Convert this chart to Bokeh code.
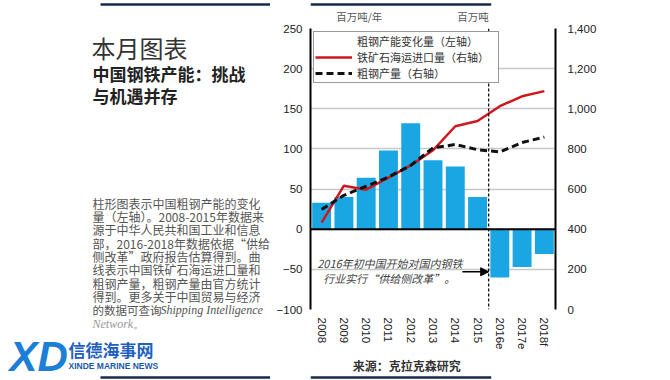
from bokeh.plotting import figure
from bokeh.models import (Range1d, LinearAxis, FixedTicker, NumeralTickFormatter, Span,
                          Label, Legend, LegendItem, Arrow, NormalHead, GridBox)
from bokeh.embed import file_html
from bokeh.resources import INLINE

# ---- data ----
years = ["2008", "2009", "2010", "2011", "2012", "2013", "2014", "2015", "2016e", "2017e", "2018f"]
capacity_change = [33, 40, 64, 98, 132, 86, 78, 40, -60, -47, -31]          # left axis, Mt/yr
iron_ore_imports = [433, 617, 597, 657, 718, 793, 913, 939, 1013, 1062, 1088]  # right axis, Mt
steel_output = [498, 569, 614, 660, 718, 805, 822, 796, 785, 832, 859]         # right axis, Mt
left_ticks = [-100, -50, 0, 50, 100, 150, 200, 250]
right_ticks = [0, 200, 400, 600, 800, 1000, 1200, 1400]

BLUE = "#1aa6e3"
RED = "#d0161e"
NAVY = "#172a4d"
CJK = "Noto Sans CJK SC"
NUM = "Liberation Sans"
SPLIT = 270   # page x where the text panel ends and the chart column begins


def blank(w, h, x0, x1, y0, y1):
    f = figure(width=w, height=h, x_range=Range1d(x0, x1), y_range=Range1d(y1, y0),
               output_backend="svg", toolbar_location=None, min_border=0,
               x_axis_location=None, y_axis_location=None, outline_line_color=None,
               background_fill_color="white", border_fill_color="white")
    f.xgrid.grid_line_color = None
    f.ygrid.grid_line_color = None
    return f


def lab(f, text, x, y, size="12px", color="#444", font=CJK, style="normal", align="left",
        baseline="middle"):
    f.add_layout(Label(x=x, y=y, text=text, text_font=font, text_font_size=size,
                       text_color=color, text_font_style=style, text_align=align,
                       text_baseline=baseline))


# ---------------- left text panel ----------------
L = blank(SPLIT, 380, 0, SPLIT, 0, 380)
L.segment(x0=[100, 100], y0=[4, 377], x1=[SPLIT, SPLIT], y1=[4, 377], line_color=NAVY,
          line_width=2.5)
lab(L, "本月图表", 91, 29, size="24px", color="#333", baseline="top")
lab(L, "中国钢铁产能：挑战", 92, 60, size="17px", color="#222", style="bold", baseline="top")
lab(L, "与机遇并存", 92, 82, size="17px", color="#222", style="bold", baseline="top")

body = ["柱形图表示中国粗钢产能的变化",
        "量（左轴）。2008-2015年数据来",
        "源于中华人民共和国工业和信息",
        "部，2016-2018年数据依据“供给",
        "侧改革”政府报告估算得到。曲",
        "线表示中国铁矿石海运进口量和",
        "粗钢产量，粗钢产量由官方统计",
        "得到。更多关于中国贸易与经济"]
body_y = [203, 216, 229, 243, 256, 269, 283, 296]
for t, yy in zip(body, body_y):
    lab(L, t, 92, yy, size="12px", color="#555")
lab(L, "的数据可查询", 92, 309, size="11.5px", color="#555")
lab(L, "Shipping Intelligence", 160, 309, size="12px", color="#555",
    font="Liberation Serif", style="italic")
lab(L, "Network。", 92, 323, size="12px", color="#999", font="Liberation Serif", style="italic")

# logo
lab(L, "XD", 9, 356, size="42px", color="#1b7fd8", font=NUM, style="bold italic")
lab(L, "信德海事网", 68, 349, size="17px", color="#1f5fbf", style="bold")
lab(L, "XINDE MARINE NEWS", 68, 365, size="8.5px", color="#1a5aa8", font=NUM, style="bold")

RW = 670 - SPLIT
# ---------------- top strip ----------------
T = blank(RW, 24, SPLIT, 670, 0, 24)
T.segment(x0=[SPLIT], y0=[4], x1=[565], y1=[4], line_color=NAVY, line_width=2.5)
lab(T, "百万吨/年", 312, 15.5, size="10.5px", color="#555")
lab(T, "百万吨", 561, 15.5, size="10.5px", color="#555", align="right")

# ---------------- chart ----------------
C = figure(width=RW, height=328, x_range=years, y_range=Range1d(-100, 250),
           output_backend="svg", toolbar_location=None,
           min_border_left=310 - SPLIT, min_border_right=115, min_border_top=4,
           min_border_bottom=42,
           outline_line_color=None, background_fill_color="white", border_fill_color="white")
C.extra_y_ranges = {"right": Range1d(0, 1400)}

C.xgrid.grid_line_color = None
C.ygrid.ticker = FixedTicker(ticks=left_ticks)
C.ygrid.grid_line_color = "#c8c8c8"
C.ygrid.grid_line_width = 1.5

ya = C.yaxis[0]
ya.ticker = FixedTicker(ticks=left_ticks)
ra = LinearAxis(y_range_name="right", ticker=FixedTicker(ticks=right_ticks),
                formatter=NumeralTickFormatter(format="0,0"))
C.add_layout(ra, "right")
for ax, so in ((ya, 8), (ra, 12)):
    ax.axis_line_color = "black"
    ax.axis_line_width = 2
    ax.major_tick_line_color = None
    ax.minor_tick_line_color = None
    ax.major_tick_out = 0
    ax.major_tick_in = 0
    ax.minor_tick_out = 0
    ax.major_label_text_font = NUM
    ax.major_label_text_font_size = "11.5px"
    ax.major_label_text_color = "#222"
    ax.major_label_standoff = so

xa = C.xaxis[0]
xa.axis_line_color = None
xa.major_tick_line_color = None
xa.minor_tick_line_color = None
xa.major_tick_out = 0
xa.major_tick_in = 0
xa.minor_tick_out = 0
xa.major_label_orientation = "vertical"
xa.major_label_text_font = NUM
xa.major_label_text_font_size = "11.5px"
xa.major_label_text_color = "#222"
xa.major_label_standoff = 8

C.vbar(x=years, top=capacity_change, width=0.85, fill_color=BLUE, line_color=None)
r_ore = C.line(years, iron_ore_imports, y_range_name="right", line_color=RED, line_width=2.5)
r_steel = C.line(years, steel_output, y_range_name="right", line_color="#111111",
                 line_width=3, line_dash="7 4")
r_bar_leg = C.line(x=[], y=[], line_color=BLUE, line_width=5)

C.add_layout(Span(location=0, dimension="width", line_color="black", line_width=2))
C.add_layout(Span(location=8.0, dimension="height", line_color="black", line_width=1.2,
                  line_dash="3 2"))
C.add_layout(Arrow(x_start=6.82, y_start=-53, x_end=8.0, y_end=-53, line_color="black",
                   line_width=1.5,
                   end=NormalHead(size=8, fill_color="black", line_color="black")))
C.add_layout(Label(x=0.3, y=-42, text="2016年初中国开始对国内钢铁", text_font=CJK,
                   text_font_size="11px", text_color="#444", text_font_style="italic",
                   text_baseline="middle"))
C.add_layout(Label(x=0.57, y=-61, text="行业实行“供给侧改革”。", text_font=CJK,
                   text_font_size="11px", text_color="#444", text_font_style="italic",
                   text_baseline="middle"))

legend = Legend(items=[LegendItem(label="粗钢产能变化量（左轴）", renderers=[r_bar_leg]),
                       LegendItem(label="铁矿石海运进口量（右轴）", renderers=[r_ore]),
                       LegendItem(label="粗钢产量（右轴）", renderers=[r_steel])],
                location="top_left", orientation="vertical")
legend.border_line_color = "#333"
legend.border_line_width = 1.2
legend.background_fill_color = "white"
legend.background_fill_alpha = 1
legend.label_text_font = CJK
legend.label_text_font_size = "11px"
legend.label_text_color = "#333"
legend.label_text_line_height = 1.0
legend.glyph_width = 37
legend.glyph_height = 12
legend.label_height = 12
legend.label_width = 140
legend.spacing = -2
legend.padding = 1
legend.label_standoff = 5
legend.margin = 3
C.add_layout(legend, "center")

# ---------------- bottom strip ----------------
B = blank(RW, 28, SPLIT, 670, 352, 380)
B.segment(x0=[SPLIT], y0=[377], x1=[565], y1=[377], line_color=NAVY, line_width=2.5)
lab(B, "来源：克拉克森研究", 427, 365, size="12px", color="#333", style="bold", align="center")

layout = GridBox(children=[(L, 0, 0, 3, 1), (T, 0, 1), (C, 1, 1), (B, 2, 1)], spacing=0)
open("out.html", "w").write(file_html(layout, INLINE))
